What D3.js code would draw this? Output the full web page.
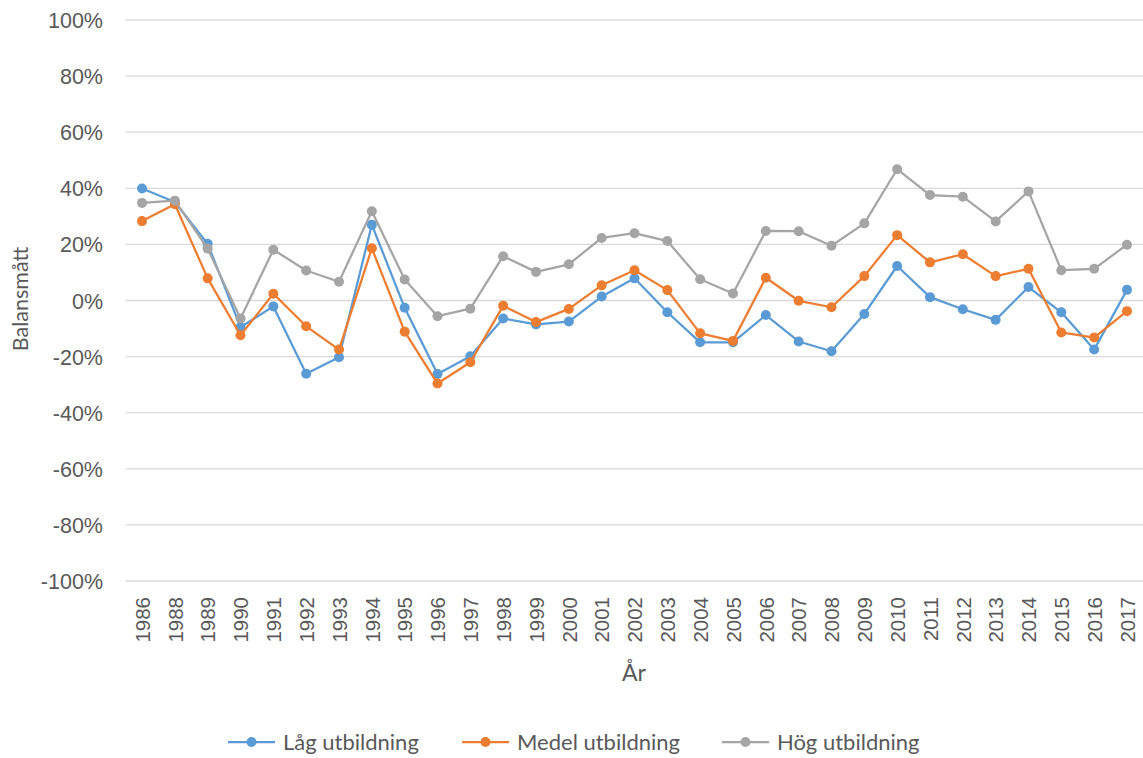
<!DOCTYPE html>
<html>
<head>
<meta charset="utf-8">
<script src="https://cdn.jsdelivr.net/npm/d3@7"></script>
<style>
  html, body { margin: 0; padding: 0; background: #fff; }
  svg { display: block; }
</style>
</head>
<body>
<svg id="chart" width="1143" height="758"></svg>
<script>
const years = ["1986","1988","1989","1990","1991","1992","1993","1994","1995","1996","1997","1998","1999","2000","2001","2002","2003","2004","2005","2006","2007","2008","2009","2010","2011","2012","2013","2014","2015","2016","2017"];
const lagUtbildning = [39.9,35.1,20.2,-9.5,-2.1,-26.1,-20.2,27.0,-2.6,-26.2,-19.9,-6.4,-8.5,-7.5,1.4,7.9,-4.2,-14.9,-14.9,-5.2,-14.6,-18.1,-4.8,12.3,1.2,-3.1,-6.9,4.8,-4.2,-17.5,3.8];
const medelUtbildning = [28.3,34.3,7.9,-12.4,2.4,-9.2,-17.5,18.6,-11.1,-29.6,-22.0,-1.9,-7.7,-3.0,5.4,10.8,3.7,-11.7,-14.4,8.1,-0.1,-2.4,8.7,23.3,13.6,16.5,8.7,11.3,-11.4,-13.2,-3.8];
const hogUtbildning = [34.8,35.6,18.5,-6.4,18.1,10.7,6.7,31.8,7.5,-5.6,-2.9,15.8,10.2,12.9,22.3,24.0,21.2,7.6,2.5,24.8,24.7,19.5,27.5,46.8,37.6,37.0,28.2,38.9,10.8,11.3,19.9];
const yTicks = [-100,-80,-60,-40,-20,0,20,40,60,80,100];
const seriesNames = ["Låg utbildning","Medel utbildning","Hög utbildning"];
const seriesColors = ["#5B9BD5","#ED7D31","#A5A5A5"];
const yTitle = "Balansmått";
const xTitle = "År";

const series = [lagUtbildning, medelUtbildning, hogUtbildning].map((vals, i) => ({
  name: seriesNames[i], color: seriesColors[i],
  points: vals.map((v, j) => ({ year: years[j], value: v }))
}));

const svg = d3.select("#chart");
const margin = { left: 125.6, right: 1143.4, top: 20, bottom: 581 };

const x = d3.scalePoint().domain(years).range([margin.left, margin.right]).padding(0.5);
const y = d3.scaleLinear().domain([-100, 100]).range([margin.bottom, margin.top]);

// gridlines
svg.append("g").selectAll("line").data(yTicks).join("line")
  .attr("x1", margin.left).attr("x2", 1143)
  .attr("y1", d => y(d)).attr("y2", d => y(d))
  .attr("stroke", "#D9D9D9").attr("stroke-width", 1.3);

// y axis labels
const yAxis = d3.axisLeft(y).tickValues(yTicks).tickFormat(d => d + "%").tickSize(0).tickPadding(0);
const gy = svg.append("g").attr("transform", `translate(103,0)`).call(yAxis);
gy.select(".domain").remove();
gy.selectAll("text").attr("font-family", "'Liberation Sans', Arial, sans-serif")
  .attr("font-size", 21.5).attr("fill", "#595959").attr("dy", "0.35em");

// x axis labels
const xAxis = d3.axisBottom(x).tickSize(0).tickPadding(0);
const gx = svg.append("g").attr("transform", `translate(0,${margin.bottom})`).call(xAxis);
gx.select(".domain").remove();
gx.selectAll("text")
  .attr("font-family", "'Liberation Sans', Arial, sans-serif")
  .attr("font-size", 20.5).attr("fill", "#595959")
  .attr("text-anchor", "end")
  .attr("transform", "translate(0,16) rotate(-90)")
  .attr("x", 0).attr("y", 0).attr("dy", "0.35em");

// axis titles
svg.append("text")
  .attr("transform", "translate(20,299) rotate(-90)")
  .attr("text-anchor", "middle").attr("dy", "0.35em")
  .attr("font-family", "Lato, 'Open Sans', sans-serif")
  .attr("font-size", 21.5).attr("fill", "#595959")
  .text(yTitle);
svg.append("text")
  .attr("x", 634).attr("y", 681)
  .attr("text-anchor", "middle")
  .attr("font-family", "Lato, 'Open Sans', sans-serif")
  .attr("font-size", 23).attr("fill", "#595959")
  .text(xTitle);

// lines + markers
const line = d3.line().x(d => x(d.year)).y(d => y(d.value));
const sg = svg.append("g").selectAll("g").data(series).join("g");
sg.append("path")
  .attr("d", d => line(d.points))
  .attr("fill", "none").attr("stroke", d => d.color).attr("stroke-width", 2.25)
  .attr("stroke-linejoin", "round");
sg.each(function(s) {
  d3.select(this).selectAll("circle").data(s.points).join("circle")
    .attr("cx", d => x(d.year)).attr("cy", d => y(d.value)).attr("r", 5)
    .attr("fill", s.color);
});

// legend
const legendX = [228, 462, 722];
const lg = svg.append("g").selectAll("g").data(series).join("g")
  .attr("transform", (d, i) => `translate(${legendX[i]},742)`);
lg.append("line").attr("x1", 0).attr("x2", 47).attr("y1", 0).attr("y2", 0)
  .attr("stroke", d => d.color).attr("stroke-width", 2.25);
lg.append("circle").attr("cx", 23.5).attr("cy", 0).attr("r", 5).attr("fill", d => d.color);
lg.append("text").attr("x", 55).attr("y", 0).attr("dy", "0.35em")
  .attr("font-family", "Lato, 'Open Sans', sans-serif")
  .attr("font-size", 22).attr("fill", "#595959")
  .text(d => d.name);
</script>
</body>
</html>
